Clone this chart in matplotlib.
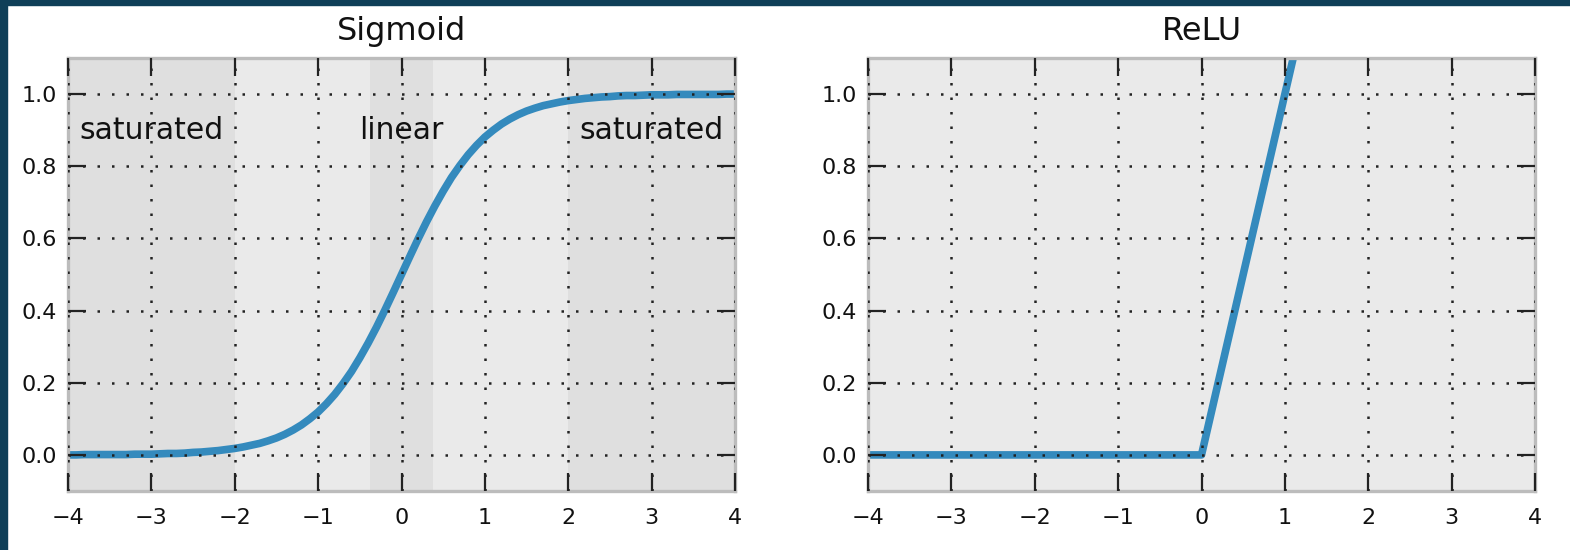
import matplotlib
matplotlib.use('Agg')
import matplotlib.pyplot as plt
from matplotlib.patches import Rectangle

# sigmoid curve, values (every 0.1 on x)
sig_x = [-4.0, -3.9, -3.8, -3.7, -3.6, -3.5, -3.4, -3.3, -3.2, -3.1,
         -3.0, -2.9, -2.8, -2.7, -2.6, -2.5, -2.4, -2.3, -2.2, -2.1,
         -2.0, -1.9, -1.8, -1.7, -1.6, -1.5, -1.4, -1.3, -1.2, -1.1,
         -1.0, -0.9, -0.8, -0.7, -0.6, -0.5, -0.4, -0.3, -0.2, -0.1,
         0.0,
         0.1, 0.2, 0.3, 0.4, 0.5, 0.6, 0.7, 0.8, 0.9, 1.0,
         1.1, 1.2, 1.3, 1.4, 1.5, 1.6, 1.7, 1.8, 1.9, 2.0,
         2.1, 2.2, 2.3, 2.4, 2.5, 2.6, 2.7, 2.8, 2.9, 3.0,
         3.1, 3.2, 3.3, 3.4, 3.5, 3.6, 3.7, 3.8, 3.9, 4.0]
sig_y = [0.000, 0.000, 0.001, 0.001, 0.001, 0.001, 0.001, 0.001, 0.002, 0.002,
         0.002, 0.003, 0.004, 0.004, 0.005, 0.007, 0.008, 0.010, 0.012, 0.015,
         0.018, 0.022, 0.027, 0.032, 0.039, 0.047, 0.057, 0.069, 0.083, 0.100,
         0.119, 0.142, 0.168, 0.198, 0.231, 0.269, 0.310, 0.354, 0.401, 0.450,
         0.500,
         0.550, 0.599, 0.646, 0.690, 0.731, 0.769, 0.802, 0.832, 0.858, 0.881,
         0.900, 0.917, 0.931, 0.943, 0.953, 0.961, 0.968, 0.973, 0.978, 0.982,
         0.985, 0.988, 0.990, 0.992, 0.993, 0.995, 0.996, 0.996, 0.997, 0.998,
         0.998, 0.998, 0.999, 0.999, 0.999, 0.999, 0.999, 0.999, 1.000, 1.000]

# relu
relu_x = [-4, 0, 4]
relu_y = [0, 0, 4]

# shaded regions on the sigmoid panel
dark_spans = [(-4, -2), (-0.38, 0.38), (2, 4)]
region_labels = ['saturated', 'linear', 'saturated']
region_x = [-3, 0, 3]
region_y = 0.9

titles = ['Sigmoid', 'ReLU']
xticks = [-4, -3, -2, -1, 0, 1, 2, 3, 4]
yticks = [0.0, 0.2, 0.4, 0.6, 0.8, 1.0]

blue = '#348ABD'
bg = '#eaeaea'
dark_bg = '#dfdfdf'
spine_col = '#bcbcbc'

plt.rcParams['font.family'] = 'DejaVu Sans'

fig = plt.figure(figsize=(15.7, 5.5), dpi=100)
fig.patch.set_facecolor('white')
# dark frame on top and left edge
fig.patches.append(Rectangle((0, 0), 7 / 1570, 1, transform=fig.transFigure, color='#0f3f58', zorder=0))
fig.patches.append(Rectangle((0, 1 - 5 / 550), 1, 5 / 550, transform=fig.transFigure, color='#0f3f58', zorder=0))

ax1 = fig.add_axes([68 / 1570, 1 - 491 / 550, 667 / 1570, 433 / 550])
ax2 = fig.add_axes([868 / 1570, 1 - 491 / 550, 667 / 1570, 433 / 550])

for ax, t in zip([ax1, ax2], titles):
    ax.set_facecolor(bg)
    ax.set_xlim(-4, 4)
    ax.set_ylim(-0.1, 1.1)
    ax.set_xticks(xticks)
    ax.set_yticks(yticks)
    ax.set_yticklabels(['%.1f' % v for v in yticks])
    ax.set_xticklabels([str(v).replace('-', '\u2212') for v in xticks])
    ax.set_axisbelow(False)
    ax.grid(True, color='#222222', linestyle=(0, (1, 4.8)), linewidth=1.8)
    ax.tick_params(direction='in', length=13, width=1.6, top=True, right=True, labelsize=16, pad=8,
                   colors='#222222', labelcolor='#111111')
    ax.tick_params(axis='x', pad=12)
    for s in ax.spines.values():
        s.set_color(spine_col)
        s.set_linewidth(2.4)
    ax.set_title(t, fontsize=23, pad=13, color='#111111')

for a, b in dark_spans:
    ax1.axvspan(a, b, color=dark_bg, lw=0, zorder=0.5)
for lab, xx in zip(region_labels, region_x):
    ax1.text(xx, region_y, lab, fontsize=21.5, ha='center', va='center', zorder=1, color='#111111')

ax1.plot(sig_x, sig_y, color=blue, linewidth=5.5, solid_capstyle='butt', solid_joinstyle='round', zorder=2)
ax2.plot(relu_x, relu_y, color=blue, linewidth=5.5, solid_capstyle='butt', solid_joinstyle='round', zorder=2)

fig.savefig('out.png', dpi=100)
